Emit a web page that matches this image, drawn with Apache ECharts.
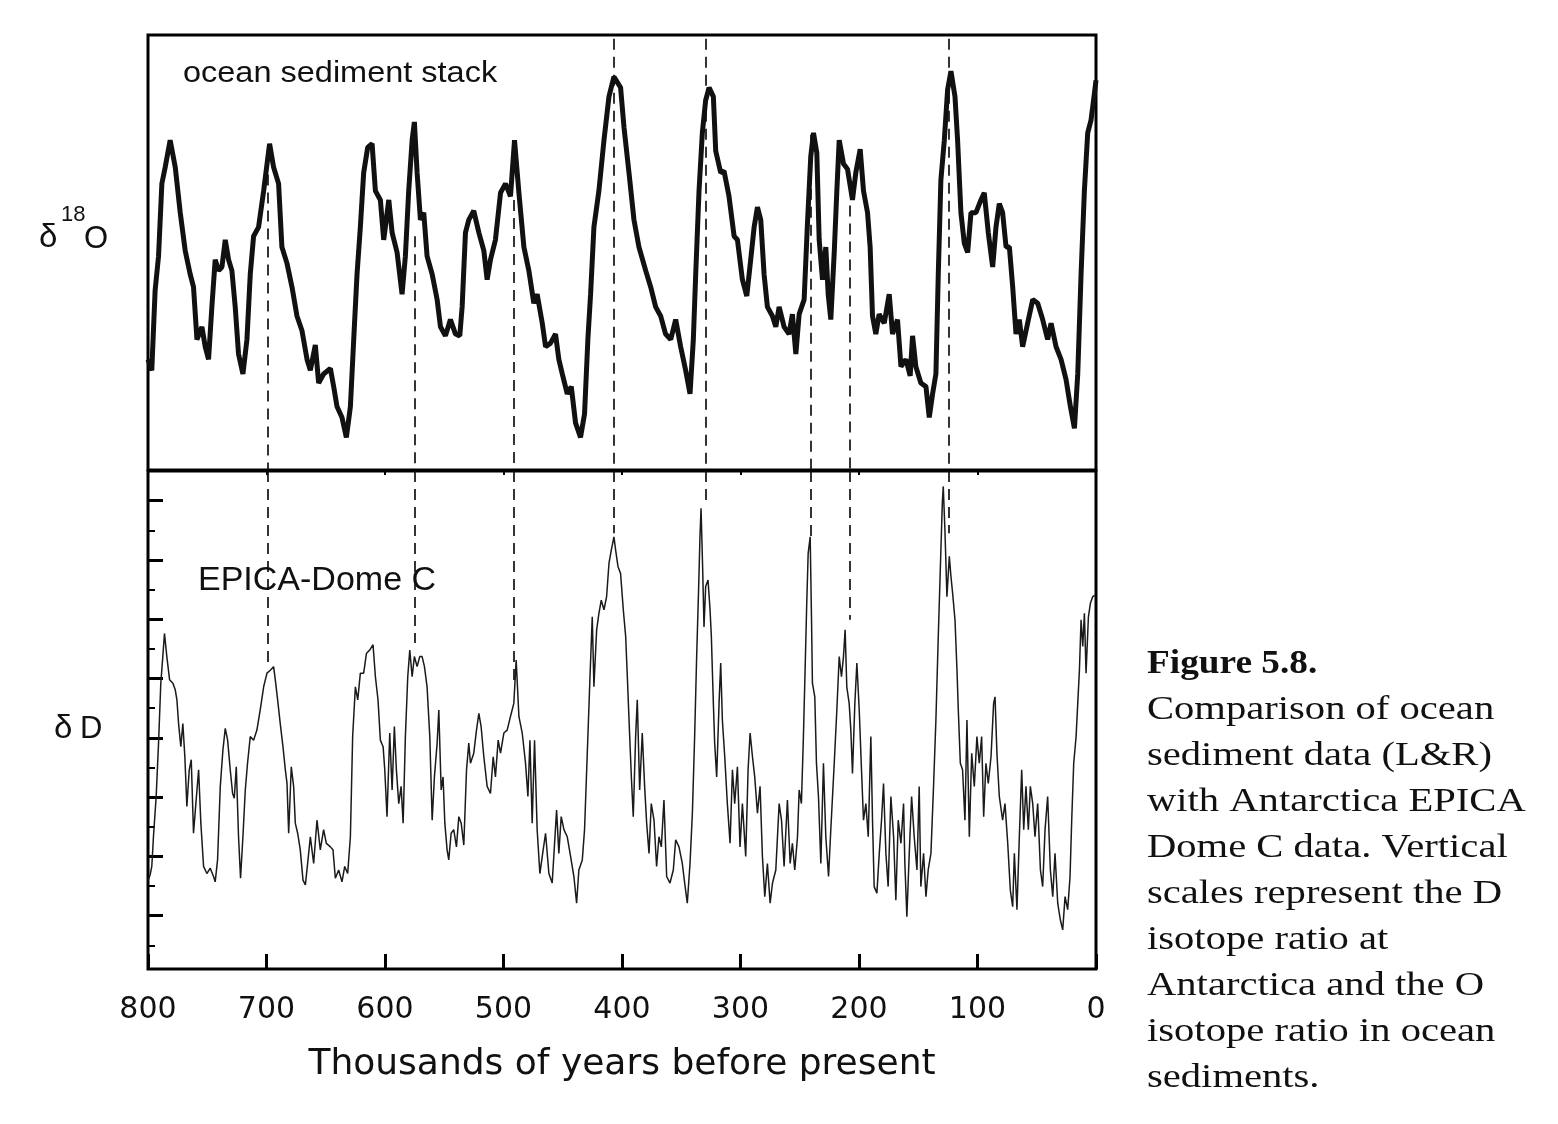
<!DOCTYPE html>
<html>
<head>
<meta charset="utf-8">
<script src="https://cdn.jsdelivr.net/npm/echarts@6/dist/echarts.min.js"></script>
<style>html,body{margin:0;padding:0;background:#fff;}#chart{width:1558px;height:1124px;}</style>
</head>
<body>
<div id="chart"></div>
<script>
// ---- Data (age in ka before present) ----
const oceanStack = [[800,4.69],[796.8,4.75],[794.0,4.31],[791.1,4.12],[788.3,3.72],[785.5,3.63],[781.3,3.48],[777.0,3.63],[772.8,3.88],[768.6,4.09],[764.4,4.22],[761.6,4.29],[758.7,4.58],[754.5,4.51],[751.7,4.62],[748.9,4.69],[746.1,4.40],[743.3,4.14],[740.4,4.20],[737.6,4.18],[734.8,4.03],[732.0,4.14],[729.2,4.20],[726.4,4.40],[723.6,4.66],[719.9,4.77],[716.5,4.58],[713.7,4.22],[710.9,4.01],[706.7,3.96],[702.4,3.76],[697.4,3.50],[694.0,3.63],[689.8,3.72],[687.0,4.07],[682.7,4.16],[678.5,4.29],[674.3,4.45],[670.1,4.53],[665.8,4.69],[663.0,4.75],[658.8,4.61],[656.0,4.82],[651.8,4.77],[646.1,4.74],[643.3,4.84],[640.5,4.95],[636.3,5.01],[632.6,5.12],[629.2,4.95],[626.4,4.58],[623.6,4.22],[620.8,3.96],[618.0,3.66],[614.6,3.52],[610.9,3.50],[608.1,3.76],[603.9,3.81],[601.1,4.03],[596.8,3.81],[594.0,3.99],[589.8,4.10],[585.6,4.33],[582.8,4.12],[580.0,3.76],[577.1,3.48],[575.2,3.38],[572.9,3.66],[570.1,3.92],[567.3,3.88],[564.5,4.12],[560.2,4.22],[556.0,4.36],[553.2,4.51],[549.0,4.56],[544.8,4.47],[540.5,4.55],[536.9,4.56],[534.9,4.40],
[532.1,3.99],[529.3,3.92],[525.1,3.87],[520.8,3.99],[516.6,4.09],[513.8,4.25],[511.0,4.14],[506.8,4.03],[502.5,3.77],[498.3,3.72],[494.1,3.79],[490.7,3.48],[487.0,3.77],[482.8,4.07],[478.6,4.20],[474.4,4.38],[471.6,4.33],[467.3,4.49],[464.5,4.62],[460.3,4.60],[456.1,4.55],[453.3,4.69],[450.4,4.77],[446.2,4.88],[442.8,4.84],[439.2,5.04],[435.0,5.12],[431.6,4.99],[428.8,4.58],[426.5,4.33],[423.7,3.96],[419.5,3.76],[415.2,3.48],[411.0,3.24],[406.8,3.13],[401.2,3.19],[398.3,3.41],[394.1,3.66],[389.9,3.92],[385.7,4.07],[380.0,4.20],[375.8,4.29],[371.6,4.40],[367.4,4.45],[363.2,4.55],[358.9,4.58],[354.7,4.47],[350.5,4.62],[346.3,4.75],[342.6,4.88],[339.8,4.58],[337.8,4.22],[335.0,3.76],[332.2,3.44],[329.4,3.26],[326.5,3.19],[322.9,3.24],[320.9,3.54],[316.7,3.66],[313.9,3.65],[309.7,3.79],[305.4,4.01],[302.6,4.03],[298.4,4.25],[294.7,4.34],[291.4,4.14],[288.5,3.96],[285.7,3.85],[282.9,3.92],[280.1,4.22],[277.3,4.40],[273.1,4.45],[270.2,4.51],[267.4,4.40],[263.2,4.51],
[259.0,4.55],[256.2,4.44],[253.3,4.66],[250.5,4.44],[246.3,4.36],[243.5,3.94],[240.7,3.57],[238.4,3.44],[235.6,3.55],[233.6,4.03],[230.8,4.25],[228.0,4.07],[226.0,4.33],[223.8,4.47],[220.9,4.10],[218.7,3.76],[216.7,3.48],[213.1,3.61],[209.7,3.64],[205.5,3.81],[202.7,3.66],[199.0,3.53],[196.2,3.76],[192.8,3.88],[190.6,4.07],[188.6,4.45],[185.8,4.55],[183.0,4.44],[178.7,4.49],[174.5,4.33],[171.7,4.55],[167.5,4.47],[164.6,4.73],[160.4,4.69],[156.8,4.78],[154.8,4.56],[152.0,4.73],[147.8,4.82],[143.5,4.84],[140.7,5.01],[137.9,4.88],[135.1,4.77],[133.1,4.22],[130.9,3.70],[128.0,3.48],[125.2,3.20],[122.4,3.10],[119.0,3.24],[116.8,3.48],[114.0,3.88],[111.1,4.05],[108.3,4.10],[105.5,3.88],[101.3,3.88],[97.1,3.81],[94.3,3.77],[90.9,3.99],[87.2,4.18],[84.4,3.96],[81.6,3.83],[78.8,3.88],[75.9,4.07],[73.1,4.07],[70.3,4.29],[67.5,4.55],[64.7,4.47],[61.9,4.62],[57.7,4.49],[53.4,4.36],[49.2,4.38],[45.0,4.47],[40.8,4.58],[37.9,4.49],[33.7,4.62],[29.5,4.69],[25.3,4.80],[21.6,4.95],[18.2,5.07],[15.4,4.77],[12.6,4.22],[9.8,3.76],[7.0,3.44],[4.2,3.37],[1.3,3.22],[0,3.15]];

const epicaDD = [[800,-434.1],[798.2,-433.1],[796.8,-431.7],[795.4,-426.7],[793.1,-419.9],[791.1,-410.9],[789.2,-400.8],[787.5,-396.3],[786.1,-392.4],[784.1,-396.3],[781.8,-400.2],[779.0,-400.8],[777.0,-401.9],[775.6,-403.6],[774.2,-407.6],[772.3,-411.5],[770.6,-407.6],[768.9,-413.2],[767.2,-421.6],[765.2,-415.4],[763.5,-413.7],[761.6,-426.1],[759.6,-421.1],[757.3,-415.4],[755.4,-424.4],[753.1,-431.7],[750.3,-432.9],[747.5,-432.0],[744.7,-433.4],[743.3,-434.3],[741.3,-430.6],[739.0,-418.2],[736.8,-412.1],[734.8,-408.4],[732.8,-410.4],[730.6,-415.4],[728.6,-419.4],[727.2,-420.2],[725.5,-414.9],[723.6,-426.7],[721.9,-433.7],[719.9,-426.7],[717.9,-418.8],[716.0,-414.3],[713.7,-409.8],[710.9,-410.4],[708.1,-408.7],[705.3,-405.3],[702.4,-401.4],[699.6,-399.1],[696.8,-398.6],[694.0,-398.0],[692.6,-400.2],[690.6,-403.6],[688.4,-407.6],[686.1,-411.5],[684.1,-415.4],[682.7,-417.7],[681.3,-426.1],[679.1,-414.9],[677.1,-418.2],[675.7,-424.4],[673.7,-426.1],[671.5,-428.9],[669.2,-434.0],[667.2,-434.8],[665.3,-431.2],[663.0,-426.7],[660.2,-431.2],[657.4,-423.9],[654.6,-428.9],[651.8,-425.5],[649.5,-427.8],[646.1,-428.4],[643.9,-428.9],[641.9,-433.7],[639.1,-432.3],[636.3,-434.3],[634.0,-431.7],[631.5,-432.9],[629.2,-426.7],[627.3,-409.8],[625.0,-401.4],[623.0,-403.6],[620.8,-399.1],[618.0,-399.1],[615.7,-395.8],[612.9,-395.2],[610.1,-394.3],[608.1,-399.7],[605.9,-403.6],[603.9,-410.4],[601.6,-411.5],[600.2,-415.4],[598.3,-423.3],[596.0,-409.2],[594.0,-418.8],[592.1,-408.1],[590.4,-415.4],[588.4,-421.1],[586.4,-418.2],[584.7,-424.4],[582.8,-409.8],[580.8,-399.7],[579.1,-395.2],[577.1,-399.7],[575.2,-396.3],[572.9,-398.0],[570.7,-396.3],[568.7,-396.3],[566.7,-398.0],[564.5,-401.4],[562.2,-409.8],[560.2,-423.9],[558.3,-416.6],[556.0,-410.9],[554.6,-405.3],[552.6,-418.8],[551.0,-416.6],[549.5,-424.4],[547.6,-428.9],[546.2,-430.6],[544.2,-426.1],[542.0,-425.5],[539.7,-428.4],[537.7,-423.3],[535.7,-424.4],[533.5,-428.1],
[531.2,-415.4],[529.3,-410.9],[527.9,-414.3],[525.1,-412.6],[522.8,-408.7],[520.8,-405.9],[518.9,-408.1],[516.6,-413.2],[513.8,-418.2],[511.0,-419.4],[508.7,-413.2],[506.8,-416.6],[504.5,-410.4],[502.5,-412.6],[499.7,-409.2],[496.9,-408.7],[494.1,-406.4],[491.3,-404.2],[489.3,-396.9],[487.0,-406.4],[484.2,-409.2],[481.4,-414.3],[479.4,-419.9],[477.7,-410.4],[475.8,-424.4],[473.8,-410.4],[471.6,-425.5],[469.3,-432.9],[467.3,-430.0],[464.5,-426.1],[461.7,-432.9],[458.9,-434.5],[456.9,-427.8],[455.2,-422.2],[453.3,-429.5],[451.3,-423.3],[449.0,-425.5],[446.2,-426.7],[443.4,-430.0],[440.6,-433.4],[438.3,-437.9],[436.4,-432.3],[433.5,-430.6],[431.6,-425.5],[429.3,-412.6],[427.1,-400.2],[425.1,-389.6],[423.7,-401.4],[421.4,-391.8],[419.5,-389.0],[417.5,-386.8],[415.2,-388.4],[413.0,-386.2],[411.0,-380.6],[409.0,-378.3],[406.8,-376.1],[405.4,-378.3],[403.4,-381.1],[401.2,-382.3],[398.9,-388.4],[396.9,-392.9],[395.5,-399.7],[393.5,-409.8],[392.1,-416.6],[390.5,-423.3],[388.5,-409.8],[387.1,-403.6],[385.1,-418.8],[382.9,-409.2],[380.9,-418.2],[379.2,-424.4],[377.2,-429.5],[375.3,-421.1],[373.0,-423.9],[370.8,-431.7],[368.8,-426.7],[366.8,-428.4],[364.6,-420.5],[362.3,-433.4],[359.5,-434.5],[356.7,-432.3],[354.7,-427.2],[351.9,-428.4],[349.1,-431.2],[347.1,-434.5],[344.9,-437.9],[342.6,-431.2],[340.6,-422.7],[338.7,-409.8],[337.0,-396.3],[335.3,-384.5],[334.2,-376.1],[333.3,-371.3],[331.9,-381.7],[330.8,-391.3],[329.4,-384.5],[327.4,-383.4],[325.7,-388.4],[324.6,-392.9],[322.9,-404.2],[321.8,-410.9],[320.1,-416.6],[318.1,-404.2],[316.7,-397.4],[315.3,-407.0],[313.3,-413.2],[311.1,-421.1],[308.8,-427.8],[306.8,-415.4],[304.9,-421.1],[302.6,-414.9],[300.4,-428.4],[298.4,-421.1],[295.6,-430.0],[293.6,-415.4],[291.9,-409.2],[289.9,-413.2],[288.0,-416.6],[285.7,-422.7],[283.5,-418.2],[281.5,-430.0],[279.5,-436.8],[277.3,-431.2],[275.0,-437.9],[273.0,-434.5],[270.2,-432.3],[267.4,-421.1],[265.4,-423.9],[263.2,-431.7],
[260.4,-420.5],[258.1,-431.2],[256.2,-427.8],[254.2,-432.3],[251.9,-426.7],[250.5,-418.8],[248.6,-421.1],[246.9,-409.8],[245.5,-398.6],[244.1,-387.3],[242.9,-378.9],[241.2,-376.1],[240.1,-389.6],[239.3,-400.8],[237.3,-403.1],[235.9,-414.3],[234.2,-419.9],[232.2,-431.2],[230.0,-414.3],[228.0,-426.7],[225.7,-433.4],[223.8,-425.5],[220.9,-414.3],[218.7,-405.3],[216.7,-396.3],[214.8,-399.7],[213.1,-396.3],[211.7,-391.8],[210.3,-401.4],[208.3,-404.2],[206.9,-408.7],[205.5,-416.0],[203.5,-404.2],[201.8,-397.4],[199.8,-405.3],[197.9,-415.4],[196.2,-423.9],[194.2,-421.1],[192.2,-426.7],[190.0,-409.8],[188.6,-423.9],[187.2,-435.1],[184.9,-436.2],[182.9,-429.5],[181.0,-423.9],[179.3,-417.7],[177.3,-429.5],[175.4,-435.1],[173.1,-419.9],[170.8,-426.7],[168.9,-437.4],[166.9,-423.9],[164.6,-427.8],[162.4,-421.1],[161.3,-431.2],[159.6,-440.2],[157.6,-429.5],[155.6,-419.9],[153.4,-426.7],[151.1,-432.3],[149.2,-418.2],[147.8,-435.1],[145.5,-429.5],[143.5,-436.8],[141.6,-432.3],[139.3,-429.5],[137.1,-418.2],[135.1,-407.0],[133.1,-392.9],[131.4,-381.7],[129.7,-370.5],[128.9,-367.6],[127.5,-374.9],[125.8,-386.2],[123.8,-379.4],[122.4,-382.8],[121.0,-385.6],[119.0,-390.1],[117.3,-398.6],[116.2,-405.3],[114.5,-414.3],[112.6,-415.4],[110.6,-423.9],[108.9,-407.0],[106.9,-426.7],[104.9,-412.6],[102.7,-418.2],[100.5,-409.8],[98.5,-414.3],[96.5,-409.8],[94.8,-423.3],[92.9,-414.3],[90.9,-417.7],[88.6,-413.2],[86.4,-404.2],[85.2,-403.1],[83.6,-412.6],[81.6,-419.9],[78.8,-423.9],[76.8,-421.1],[74.5,-427.8],[72.3,-435.7],[70.3,-438.5],[68.9,-429.5],[66.7,-439.0],[64.7,-426.7],[62.7,-415.4],[61.0,-425.5],[59.1,-418.2],[57.1,-425.5],[55.4,-418.2],[53.4,-421.1],[51.5,-426.7],[49.2,-421.1],[46.9,-432.3],[45.0,-435.1],[43.0,-425.5],[40.8,-419.9],[38.5,-432.3],[36.5,-436.8],[34.6,-429.5],[32.3,-437.9],[30.1,-440.7],[28.1,-442.4],[26.1,-436.8],[23.9,-439.0],[21.9,-433.4],[20.5,-423.9],[18.8,-414.3],[16.8,-409.8],[15.4,-404.2],[14.0,-398.6],[12.6,-390.1],[11.2,-394.6],[9.8,-389.0],[8.4,-399.1],[6.4,-389.6],[4.7,-387.3],[2.8,-386.2],[1.0,-386.0]];

// dashed correlation lines: age, start value in top panel, end value in bottom panel
const dashYears     = [699, 575, 491, 407, 329, 241, 208, 124];
const dashTopStart  = [3.67, 4.01, 3.81, 2.92, 2.92, 3.45, 3.84, 2.92];
const dashBottomEnd = [-397.4, -394.0, -400.8, -375.5, -370.2, -376.6, -390.1, -375.5];

const dDMajorTicks = [-440, -430, -420, -410, -400, -390, -380, -370];
const dDMinorTicks = [-445, -435, -425, -415, -405, -395, -385, -375];

const topLabel = 'ocean sediment stack';
const bottomLabel = 'EPICA-Dome C';
const xAxisTitle = 'Thousands of years before present';
const captionTitle = 'Figure 5.8.';
const captionLines = ['Comparison of ocean', 'sediment data (L&R)', 'with Antarctica EPICA',
  'Dome C data. Vertical', 'scales represent the D', 'isotope ratio at',
  'Antarctica and the O', 'isotope ratio in ocean', 'sediments.'];

// ---- Chart ----
const chart = echarts.init(document.getElementById('chart'), null, {renderer: 'canvas'});
const ink = '#111';
const L = 148, W = 948;

const topDash = dashYears.map((y, i) => [{coord: [y, dashTopStart[i]]}, {coord: [y, 5.3]}]);
const botDash = dashYears.map((y, i) => [{coord: [y, -365]}, {coord: [y, dashBottomEnd[i]]}]);
const dashStyle = {color: ink, width: 1.7, type: [11, 7]};

const graphics = [
  {type: 'text', x: 183, y: 74, scaleX: 1.12, style: {text: topLabel, fontSize: 29, fontFamily: 'Liberation Sans', fill: ink, verticalAlign: 'middle'}},
  {type: 'text', x: 198, y: 581, style: {text: bottomLabel, fontSize: 34, fontFamily: 'Liberation Sans', fill: ink, verticalAlign: 'middle'}},
  {type: 'text', x: 39, y: 238, style: {text: 'δ', fontSize: 33, fontFamily: 'Liberation Sans', fill: ink, verticalAlign: 'middle'}},
  {type: 'text', x: 61, y: 215, style: {text: '18', fontSize: 22, fontFamily: 'Liberation Sans', fill: ink, verticalAlign: 'middle'}},
  {type: 'text', x: 84, y: 239, style: {text: 'O', fontSize: 31, fontFamily: 'Liberation Sans', fill: ink, verticalAlign: 'middle'}},
  {type: 'text', x: 54, y: 729, style: {text: 'δ', fontSize: 33, fontFamily: 'Liberation Sans', fill: ink, verticalAlign: 'middle'}},
  {type: 'text', x: 80, y: 729, style: {text: 'D', fontSize: 31, fontFamily: 'Liberation Sans', fill: ink, verticalAlign: 'middle'}},
  {type: 'text', x: 1147, y: 664, scaleX: 1.13, style: {text: captionTitle, fontSize: 33, fontWeight: 'bold', fontFamily: 'Liberation Serif', fill: ink, verticalAlign: 'middle'}}
];
captionLines.forEach((t, i) => {
  graphics.push({type: 'text', x: 1147, y: 710 + i * 46, scaleX: 1.23,
    style: {text: t, fontSize: 33, fontFamily: 'Liberation Serif', fill: ink, verticalAlign: 'middle'}});
});

const option = {
  backgroundColor: '#fff',
  animation: false,
  grid: [
    {left: L, top: 35, width: W, height: 435, show: true, borderColor: '#000', borderWidth: 3, backgroundColor: 'transparent'},
    {left: L, top: 471, width: W, height: 498, show: true, borderColor: '#000', borderWidth: 3, backgroundColor: 'transparent'}
  ],
  xAxis: [
    {gridIndex: 0, type: 'value', min: 0, max: 800, inverse: true, axisLine: {show: false, onZero: false}, axisTick: {show: false}, axisLabel: {show: false}, splitLine: {show: false}},
    {gridIndex: 1, type: 'value', min: 0, max: 800, interval: 100, inverse: true, position: 'bottom',
      axisLine: {show: false, onZero: false},
      axisTick: {show: true, inside: true, length: 15, lineStyle: {color: '#000', width: 3}},
      axisLabel: {show: true, margin: 26, fontSize: 30, fontFamily: 'DejaVu Sans', color: ink},
      splitLine: {show: false},
      name: xAxisTitle, nameLocation: 'middle', nameGap: 78,
      nameTextStyle: {fontSize: 36, fontFamily: 'DejaVu Sans', color: ink}},
    {gridIndex: 1, type: 'value', min: 0, max: 800, interval: 100, inverse: true, position: 'top',
      axisLine: {show: false, onZero: false}, axisTick: {show: true, inside: true, length: 4, lineStyle: {color: '#000', width: 2}},
      axisLabel: {show: false}, splitLine: {show: false}}
  ],
  yAxis: [
    {gridIndex: 0, type: 'value', min: 2.9, max: 5.3, inverse: true, axisLine: {show: false, onZero: false}, axisTick: {show: false}, axisLabel: {show: false}, splitLine: {show: false}},
    {gridIndex: 1, type: 'value', min: -449, max: -365, position: 'left',
      axisLine: {show: false, onZero: false}, splitLine: {show: false},
      axisTick: {show: true, inside: true, length: 15, customValues: dDMajorTicks, lineStyle: {color: '#000', width: 3}},
      axisLabel: {show: false, customValues: dDMajorTicks}},
    // minor ticks: right-positioned axis moved to the left edge, ticks pointing into the panel
    {gridIndex: 1, type: 'value', min: -449, max: -365, position: 'right', offset: -W,
      axisLine: {show: false, onZero: false}, splitLine: {show: false},
      axisTick: {show: true, inside: false, length: 7, customValues: dDMinorTicks, lineStyle: {color: '#000', width: 2}},
      axisLabel: {show: false, customValues: dDMinorTicks}}
  ],
  series: [
    {name: 'ocean sediment stack', type: 'line', xAxisIndex: 0, yAxisIndex: 0, data: oceanStack,
      symbol: 'none', lineStyle: {color: ink, width: 5}, z: 3,
      markLine: {silent: true, symbol: ['none', 'none'], label: {show: false}, lineStyle: dashStyle, data: topDash}},
    {name: 'EPICA-Dome C', type: 'line', xAxisIndex: 1, yAxisIndex: 1, data: epicaDD,
      symbol: 'none', lineStyle: {color: '#1a1a1a', width: 1.5}, z: 3,
      markLine: {silent: true, symbol: ['none', 'none'], label: {show: false}, lineStyle: dashStyle, data: botDash}}
  ],
  graphic: graphics
};
chart.setOption(option);
</script>
</body>
</html>
